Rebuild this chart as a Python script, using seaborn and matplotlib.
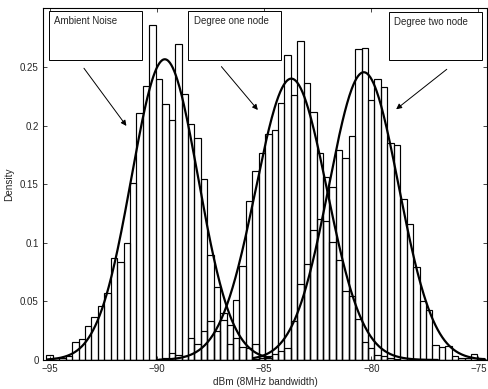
import numpy as np
import pandas as pd
import matplotlib
matplotlib.use("Agg")
import matplotlib.pyplot as plt
import seaborn as sns
from matplotlib.patches import Rectangle

# ---------------- data ----------------
bin_width = 0.3
first_center = -95.0  # centre of bin index 0

# bar heights (density), listed from their first bin index
ambient_start = 0
ambient = [0.004, 0.002, 0.002, 0.003, 0.015, 0.018, 0.029, 0.037, 0.046, 0.057,
           0.087, 0.084, 0.100, 0.151, 0.211, 0.234, 0.286, 0.240, 0.218, 0.205,
           0.270, 0.227, 0.201, 0.189, 0.154, 0.090, 0.062, 0.040, 0.014, 0.019,
           0.011, 0.010, 0.014, 0.003, 0.002]

deg1_start = 17
deg1 = [0.001, 0.002, 0.006, 0.004, 0.003, 0.019, 0.014, 0.025, 0.033, 0.025,
        0.034, 0.030, 0.051, 0.080, 0.136, 0.161, 0.177, 0.193, 0.196, 0.219,
        0.260, 0.226, 0.272, 0.236, 0.212, 0.177, 0.156, 0.101, 0.085, 0.059,
        0.055, 0.035, 0.015, 0.010, 0.004, 0.003, 0.002, 0.001]

deg2_start = 32
deg2 = [0.001, 0.002, 0.003, 0.005, 0.008, 0.010, 0.033, 0.065, 0.082, 0.111,
        0.120, 0.119, 0.148, 0.179, 0.172, 0.191, 0.265, 0.266, 0.222, 0.240,
        0.233, 0.185, 0.183, 0.137, 0.116, 0.079, 0.050, 0.043, 0.013, 0.011,
        0.012, 0.003, 0.002, 0.002, 0.005, 0.002]

# fitted normal curves: (mean, std, x-from, x-to)
fit_ambient = (-89.63, 1.555, -95.1, -84.7)
fit_deg1 = (-83.73, 1.662, -89.9, -76.9)
fit_deg2 = (-80.35, 1.625, -85.5, -74.7)

labels = ["Ambient Noise", "Degree one node", "Degree two node"]
xticks = [-95, -90, -85, -80, -75]
yticks = [0, 0.05, 0.1, 0.15, 0.2, 0.25]
xlabel = "dBm (8MHz bandwidth)"
ylabel = "Density"

# ---------------- figure ----------------
sns.set_style("ticks")
plt.rcParams["font.family"] = ["Liberation Sans", "DejaVu Sans"]

fig = plt.figure(figsize=(4.89, 3.89), dpi=100)
ax = fig.add_axes([43 / 489, 29 / 389, 444.5 / 489, 352 / 389])

n_bins = 70
lo = first_center - bin_width / 2
hi = lo + bin_width * n_bins


def draw_hist(values, start):
    idx = start + np.arange(len(values))
    df = pd.DataFrame({"x": first_center + bin_width * idx,
                       "h": np.asarray(values, dtype=float)})
    sns.histplot(data=df, x="x", weights="h", binwidth=bin_width,
                 binrange=(lo, hi), stat="count",
                 fill=False, element="bars", color="black", linewidth=0.85,
                 ax=ax)


draw_hist(ambient, ambient_start)
draw_hist(deg1, deg1_start)
draw_hist(deg2, deg2_start)


def draw_fit(params):
    mu, sd, a, b = params
    xs = np.linspace(a, b, 300)
    ys = np.exp(-0.5 * ((xs - mu) / sd) ** 2) / (sd * np.sqrt(2 * np.pi))
    sns.lineplot(x=xs, y=ys, color="black", linewidth=1.6, ax=ax, zorder=5)


draw_fit(fit_ambient)
draw_fit(fit_deg1)
draw_fit(fit_deg2)

ax.set_xlim(-95.31, -74.58)
ax.set_ylim(0, 0.3003)
ax.set_xticks(xticks)
ax.set_xticklabels([f"\u2212{abs(t)}" for t in xticks])
ax.set_yticks(yticks)
ax.set_yticklabels(["0", "0.05", "0.1", "0.15", "0.2", "0.25"])
ax.tick_params(direction="in", length=3, width=0.6, labelsize=7,
               top=True, right=True, pad=3)
for s in ax.spines.values():
    s.set_linewidth(0.8)
    s.set_color("black")
ax.set_xlabel(xlabel, fontsize=7.2, labelpad=2)
ax.set_ylabel(ylabel, fontsize=7.2, labelpad=4)

# annotation boxes and arrows
boxes = [(-95.03, -90.68, 0.2560, 0.2978, -94.80, 0.2895),
         (-88.53, -84.20, 0.2560, 0.2978, -88.27, 0.2895),
         (-79.18, -74.85, 0.2560, 0.2967, -78.92, 0.2887)]
for (x0, x1, y0, y1, tx, ty), lab in zip(boxes, labels):
    ax.add_patch(Rectangle((x0, y0), x1 - x0, y1 - y0, facecolor="white",
                           edgecolor="black", linewidth=0.7, zorder=6))
    ax.text(tx, ty, lab, fontsize=7.0, ha="left", va="center", zorder=7)

arrows = [((-93.40, 0.2489), (-91.42, 0.1997)),
          ((-86.99, 0.2503), (-85.29, 0.2133)),
          ((-76.48, 0.2480), (-78.84, 0.2139))]
for start, end in arrows:
    ax.annotate("", xy=end, xytext=start,
                arrowprops=dict(arrowstyle="-|>", color="black", lw=0.7,
                                mutation_scale=8, shrinkA=0, shrinkB=0),
                zorder=7)

fig.savefig("out.png", dpi=100)
